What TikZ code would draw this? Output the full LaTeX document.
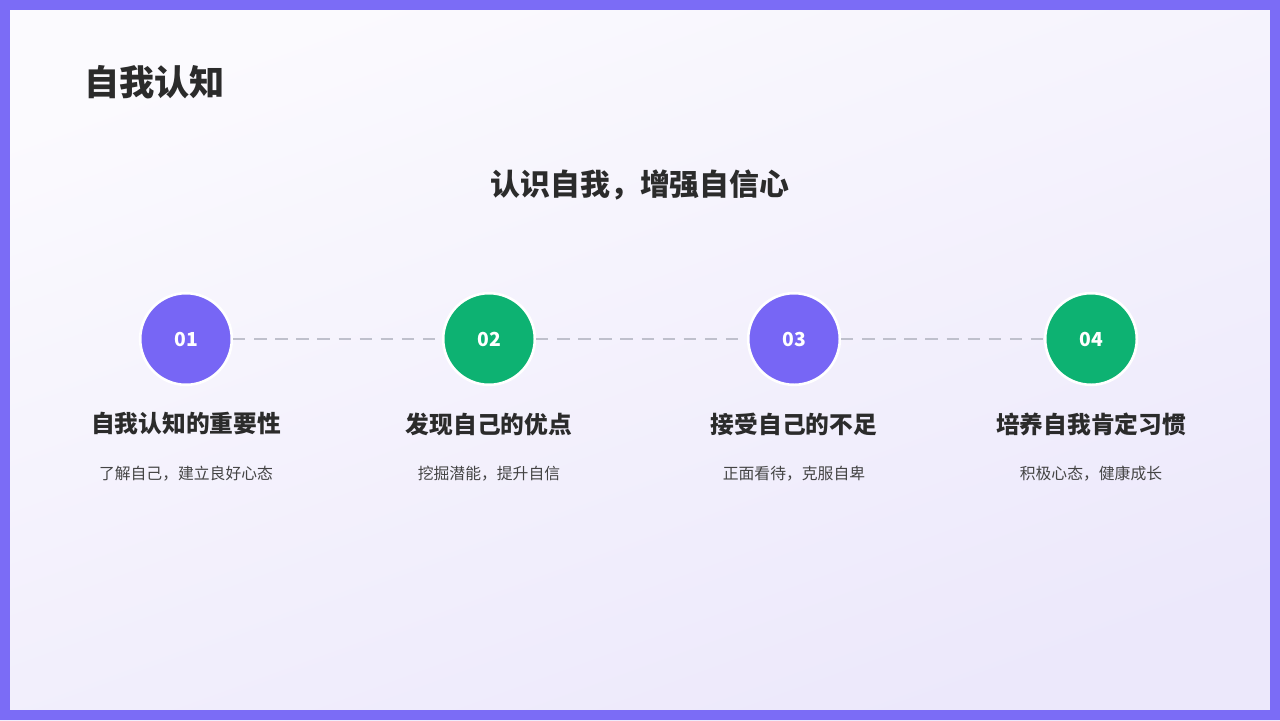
\documentclass[tikz,border=0pt]{standalone}
\usepackage{fontspec}
\setmainfont{Noto Sans CJK SC}
\newfontfamily\cjkbold[BoldFont={* Bold}]{Noto Sans CJK SC}
\usetikzlibrary{calc}
\definecolor{Frame}{HTML}{7B6CF6}
\definecolor{Purple}{HTML}{7766F5}
\definecolor{Green}{HTML}{0DB272}
\definecolor{Ink}{HTML}{2B2B2B}
\definecolor{Soft}{HTML}{444444}
\definecolor{Dash}{HTML}{BFC0CC}
\definecolor{BgA}{HTML}{FBFAFE}
\definecolor{BgB}{HTML}{ECE8FB}
\tikzset{
Step/.style={circle,minimum size=92pt*0.567,draw=white,line width=1.5pt,font=\bfseries\fontsize{11}{13}\selectfont,text=white},
Head/.style={font=\bfseries\fontsize{13.5}{16}\selectfont,text=Ink},
Sub/.style={font=\fontsize{9}{11}\selectfont,text=Soft},
Link/.style={draw=Dash,line width=1.2pt,dash pattern=on 7pt off 5pt}
}
\begin{document}
\begin{tikzpicture}[x=0.02cm,y=-0.02cm]
	\useasboundingbox (0,0) rectangle (1280,720);
	\shade[top color=BgA,bottom color=BgB,shading angle=20] (0,0) rectangle (1280,720);
	\draw[Frame,line width=10*0.567pt] (5,5) rectangle (1275,715);
	
	\node[anchor=west,font=\bfseries\fontsize{20}{24}\selectfont,text=Ink] (Title) at (78,82) {自我认知};
	\node[font=\bfseries\fontsize{17}{20}\selectfont,text=Ink] (Motto) at (640,185) {认识自我，增强自信心};
	
	\foreach \i/\x/\c/\h/\s in {1/186/Purple/自我认知的重要性/了解自己，建立良好心态,
		2/489/Green/发现自己的优点/挖掘潜能，提升自信,
		3/794/Purple/接受自己的不足/正面看待，克服自卑,
		4/1091/Green/培养自我肯定习惯/积极心态，健康成长}{
		\node[Step,fill=\c] (S\i) at (\x,339) {0\i};
		\node[Head] (H\i) at (\x,424) {\h};
		\node[Sub] (T\i) at (\x,474) {\s};
	}
	
	\foreach \a/\b in {1/2,2/3,3/4}
		\draw[Link] (S\a) -- (S\b);
\end{tikzpicture}
\end{document}
